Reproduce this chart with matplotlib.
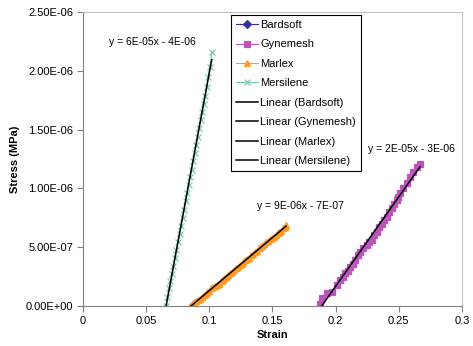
import numpy as np
import matplotlib
matplotlib.use("Agg")
import matplotlib.pyplot as plt
from matplotlib.ticker import FuncFormatter

plt.rcParams['font.family'] = ['Liberation Sans', 'DejaVu Sans']

# strain / stress (MPa, in units of 1e-6)
bardsoft_x = []
bardsoft_y = []

gynemesh_x = [0.1877, 0.1890, 0.1930, 0.1970, 0.2008, 0.2035, 0.2055, 0.2074, 0.2094,
              0.2114, 0.2134, 0.2154, 0.2173, 0.2193, 0.2220, 0.2246, 0.2266, 0.2286,
              0.2305, 0.2325, 0.2345, 0.2365, 0.2385, 0.2404, 0.2424, 0.2444, 0.2464,
              0.2484, 0.2497, 0.2510, 0.2536, 0.2562, 0.2589, 0.2610, 0.2640, 0.2668]
gynemesh_y = [0.02, 0.07, 0.11, 0.12, 0.18, 0.22, 0.25, 0.28, 0.30,
              0.33, 0.36, 0.39, 0.43, 0.46, 0.49, 0.52, 0.54, 0.56,
              0.60, 0.63, 0.67, 0.70, 0.73, 0.76, 0.80, 0.83, 0.87,
              0.90, 0.93, 0.96, 1.00, 1.05, 1.10, 1.14, 1.18, 1.21]

marlex_x = [0.0850, 0.0865, 0.0880, 0.0895, 0.0910, 0.0925, 0.0940, 0.0955, 0.0970,
            0.0985, 0.1000, 0.1015, 0.1030, 0.1045, 0.1060, 0.1075, 0.1090, 0.1105,
            0.1120, 0.1135, 0.1150, 0.1165, 0.1180, 0.1195, 0.1210, 0.1225, 0.1240,
            0.1255, 0.1270, 0.1285, 0.1300, 0.1315, 0.1330, 0.1345, 0.1360, 0.1375,
            0.1390, 0.1405, 0.1420, 0.1435, 0.1450, 0.1465, 0.1480, 0.1495, 0.1510,
            0.1525, 0.1540, 0.1555, 0.1570, 0.1585, 0.1600, 0.1607]
marlex_y = [0.00, 0.02, 0.03, 0.04, 0.05, 0.06, 0.08, 0.09, 0.10,
            0.12, 0.13, 0.15, 0.16, 0.17, 0.18, 0.19, 0.21, 0.22,
            0.24, 0.25, 0.26, 0.28, 0.29, 0.31, 0.32, 0.33, 0.35,
            0.36, 0.37, 0.39, 0.40, 0.41, 0.43, 0.44, 0.46, 0.47,
            0.49, 0.50, 0.51, 0.53, 0.54, 0.55, 0.57, 0.58, 0.59,
            0.60, 0.62, 0.63, 0.64, 0.66, 0.67, 0.69]

mersilene_x = [0.0657, 0.0668, 0.0680, 0.0692, 0.0704, 0.0716, 0.0728, 0.0740, 0.0752,
               0.0764, 0.0776, 0.0788, 0.0800, 0.0812, 0.0824, 0.0836, 0.0848, 0.0860,
               0.0872, 0.0884, 0.0896, 0.0908, 0.0920, 0.0932, 0.0944, 0.0956, 0.0968,
               0.0980, 0.0992, 0.1004, 0.1019]
mersilene_y = [0.00, 0.08, 0.15, 0.21, 0.27, 0.34, 0.41, 0.48, 0.54,
               0.61, 0.68, 0.75, 0.82, 0.89, 0.96, 1.03, 1.10, 1.16,
               1.23, 1.30, 1.37, 1.44, 1.51, 1.58, 1.65, 1.72, 1.79,
               1.86, 1.95, 2.03, 2.16]

equations = ["y = 6E-05x - 4E-06", "y = 9E-06x - 7E-07", "y = 2E-05x - 3E-06"]

fig = plt.figure(figsize=(4.73, 3.46), dpi=100)
ax = fig.add_axes([0.1755, 0.1156, 0.8012, 0.8497])

series = [
    ("Bardsoft", bardsoft_x, bardsoft_y, "D", "#333399"),
    ("Gynemesh", gynemesh_x, gynemesh_y, "s", "#BB55BB"),
    ("Marlex", marlex_x, marlex_y, "^", "#FF9922"),
    ("Mersilene", mersilene_x, mersilene_y, "x", "#77CCAA"),
]

for name, xs, ys, mk, col in series:
    ax.plot(xs, np.array(ys) * 1e-6, marker=mk, color=col, markersize=4.5,
            linewidth=0.8, markeredgewidth=0.9, label=name)

for name, xs, ys, mk, col in series:
    if len(xs) > 1:
        k, b = np.polyfit(xs, ys, 1)
        xx = np.array([min(xs), max(xs)])
        ax.plot(xx, (k * xx + b) * 1e-6, color="black", linewidth=1.1,
                label="Linear (%s)" % name)
    else:
        ax.plot([], [], color="black", linewidth=1.1, label="Linear (%s)" % name)

ax.text(0.055, 2.245e-6, equations[0], fontsize=7.5, ha="center", va="center")
ax.text(0.1718, 0.85e-6, equations[1], fontsize=7.5, ha="center", va="center")
ax.text(0.2601, 1.335e-6, equations[2], fontsize=7.5, ha="center", va="center")

ax.set_xlim(0, 0.3)
ax.set_ylim(0, 2.5e-6)
ax.set_xticks([0, 0.05, 0.1, 0.15, 0.2, 0.25, 0.3])
ax.set_xticklabels(["0", "0.05", "0.1", "0.15", "0.2", "0.25", "0.3"])
ax.set_yticks(np.arange(0, 2.51e-6, 0.5e-6))
ax.yaxis.set_major_formatter(FuncFormatter(lambda v, p: ("%.2E" % v)))
ax.tick_params(labelsize=8, length=4, width=0.8, color="#808080", pad=3)
ax.set_xlabel("Strain", fontsize=8, fontweight="bold", labelpad=3)
ax.set_ylabel("Stress (MPa)", fontsize=8, fontweight="bold", labelpad=4)

for s in ["left", "bottom"]:
    ax.spines[s].set_color("#808080")
for s in ["top", "right"]:
    ax.spines[s].set_color("#C0C0C0")

leg = ax.legend(loc="upper left", bbox_to_anchor=(0.39, 0.99), fontsize=8,
                frameon=True, fancybox=False, edgecolor="black", framealpha=1,
                handlelength=2.0, handletextpad=0.2, labelspacing=0.85,
                borderpad=0.45, borderaxespad=0)
leg.get_frame().set_linewidth(0.8)

fig.savefig("out.png", dpi=100)
